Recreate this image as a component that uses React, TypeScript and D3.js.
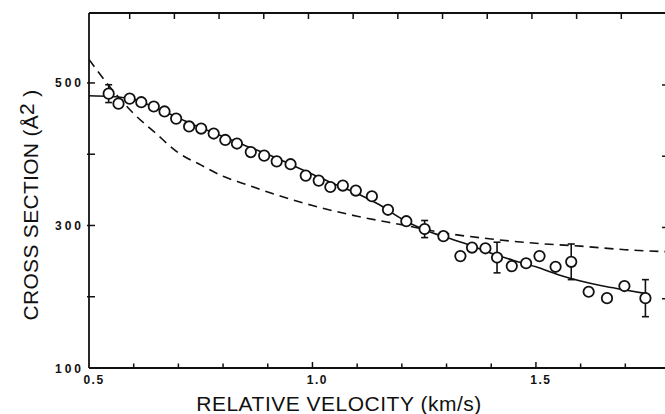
import * as d3 from "d3";

// measured cross sections (open circles)
const measVelocity = [0.544, 0.566, 0.591, 0.617, 0.645, 0.669, 0.695, 0.724, 0.751, 0.779,
  0.805, 0.831, 0.862, 0.892, 0.920, 0.951, 0.985, 1.014, 1.040, 1.068,
  1.097, 1.133, 1.169, 1.210, 1.251, 1.293, 1.331, 1.357, 1.387, 1.413,
  1.446, 1.478, 1.508, 1.544, 1.579, 1.618, 1.659, 1.698, 1.745];
const measSigma = [485, 471, 478, 473, 467, 460, 450, 439, 436, 429,
  420, 415, 403, 398, 390, 386, 370, 363, 354, 356,
  349, 341, 322, 306, 295, 285, 257, 269, 268, 255,
  243, 247, 257, 242, 249, 207, 198, 215, 198];

// error bars: index into the measured points, half height
const errIndex = [0, 24, 29, 34, 38];
const errSize = [12.5, 12, 21.5, 25, 26];

// solid fit curve
const fitVelocity = [0.5, 0.55, 0.6, 0.65, 0.7, 0.75, 0.8, 0.85, 0.9, 0.95, 1.0, 1.05, 1.1,
  1.15, 1.2, 1.25, 1.3, 1.35, 1.4, 1.45, 1.5, 1.55, 1.6, 1.65, 1.7, 1.75];
const fitSigma = [482, 481, 477, 465, 451, 437, 425, 412, 400, 386, 372, 358, 345,
  329, 309, 294, 283, 273, 261, 251, 242, 231, 222, 215, 209.5, 204];

// dashed theory curve
const theoryVelocity = [0.5, 0.55, 0.6, 0.65, 0.7, 0.75, 0.8, 0.85, 0.9, 0.95, 1.0,
  1.1, 1.2, 1.3, 1.4, 1.5, 1.6, 1.7, 1.8];
const theorySigma = [533, 492, 457, 429, 402, 385, 369, 358, 347, 337, 328,
  313, 301, 289, 281, 275, 271, 266, 263];

const xLabels = ["0.5", "1.0", "1.5"];
const yLabels = ["100", "300", "500"];
const xMinor = [0.6, 0.7, 0.8, 0.9, 1.0, 1.1, 1.2, 1.3, 1.4, 1.5, 1.6, 1.7];
const yMinor = [200, 300, 400, 500];

const W = 665, H = 414;
const margin = { top: 13, left: 89, bottom: 368, right: 670 };
const font = "'Liberation Sans', Arial, Helvetica, sans-serif";

export default function App() {
  const x = d3.scaleLinear().domain([0.5, 1.8]).range([margin.left, margin.right]);
  const y = d3.scaleLinear().domain([100, 600]).range([margin.bottom, margin.top - 1.3]);

  const line = d3.line<[number, number]>()
    .x(d => x(d[0]))
    .y(d => y(d[1]))
    .curve(d3.curveMonotoneX);

  const fitPath = line(fitVelocity.map((v, i) => [v, fitSigma[i]]));
  const theoryPath = line(theoryVelocity.map((v, i) => [v, theorySigma[i]]));

  const tick = 6;

  return (
    <svg width={W} height={H} style={{ position: "absolute", left: 0, top: 0, background: "#fff" }}>
      <defs>
        <clipPath id="plot">
          <rect x={margin.left} y={margin.top} width={margin.right - margin.left} height={margin.bottom - margin.top} />
        </clipPath>
      </defs>

      {/* frame */}
      <g stroke="#111" strokeWidth={1.8} fill="none">
        <line x1={margin.left} x2={W} y1={margin.top} y2={margin.top} />
        <line x1={margin.left} x2={W} y1={margin.bottom} y2={margin.bottom} />
        <line x1={margin.left} x2={margin.left} y1={margin.top} y2={margin.bottom} />
        <line x1={margin.right} x2={margin.right} y1={margin.top} y2={margin.bottom} />
      </g>

      {/* ticks */}
      <g stroke="#111" strokeWidth={1.5}>
        {xMinor.map(v => (
          <g key={"xt" + v}>
            <line x1={x(v)} x2={x(v)} y1={margin.bottom} y2={margin.bottom - (v === 1.0 || v === 1.5 ? tick : tick - 1.5)} />
            <line x1={x(v) - 4} x2={x(v) - 4} y1={margin.top} y2={margin.top + tick} />
          </g>
        ))}
        {yMinor.map(v => (
          <g key={"yt" + v}>
            <line x1={margin.left - 2} x2={margin.left + tick} y1={y(v)} y2={y(v)} />
            <line x1={margin.right} x2={margin.right - tick - 2} y1={y(v) + 2} y2={y(v) + 2} />
          </g>
        ))}
      </g>

      {/* tick labels */}
      <g fontFamily={font} fontWeight="bold" fontSize={12} fill="#111">
        {xLabels.map(l => (
          <text key={"xl" + l} x={x(+l) + 5} y={margin.bottom + 16} textAnchor="middle" letterSpacing={1.5}>{l}</text>
        ))}
        {yLabels.map(l => (
          <text key={"yl" + l} x={margin.left - 5} y={y(+l) + 4.5} textAnchor="end" letterSpacing={3}>{l}</text>
        ))}
      </g>

      {/* curves */}
      <g clipPath="url(#plot)" fill="none" stroke="#111">
        <path d={theoryPath ?? ""} strokeWidth={1.6} strokeDasharray="9,6" />
        <path d={fitPath ?? ""} strokeWidth={1.6} />
      </g>

      {/* error bars */}
      <g stroke="#111" strokeWidth={1.6}>
        {errIndex.map((idx, k) => {
          const cx = x(measVelocity[idx]);
          const top = y(measSigma[idx] + errSize[k]);
          const bot = y(measSigma[idx] - errSize[k]);
          return (
            <g key={"eb" + idx}>
              <line x1={cx} x2={cx} y1={top} y2={bot} />
              <line x1={cx - 3.5} x2={cx + 3.5} y1={top} y2={top} />
              <line x1={cx - 3.5} x2={cx + 3.5} y1={bot} y2={bot} />
            </g>
          );
        })}
      </g>

      {/* points */}
      <g fill="#fff" stroke="#111" strokeWidth={1.8}>
        {measVelocity.map((v, i) => (
          <circle key={"p" + i} cx={x(v)} cy={y(measSigma[i])} r={5.2} />
        ))}
      </g>

      {/* axis titles */}
      <text x={339} y={411} textAnchor="middle" fontFamily={font} fontSize={21} letterSpacing={0.5} fill="#111">
        RELATIVE VELOCITY (km/s)
      </text>
      <text transform="translate(38,205) rotate(-90)" textAnchor="middle" fontFamily={font} fontSize={21} letterSpacing={0.3} fill="#111">
        CROSS SECTION (Å<tspan fontSize={21} dy={-4}>2</tspan><tspan dy={4}> )</tspan>
      </text>
    </svg>
  );
}
